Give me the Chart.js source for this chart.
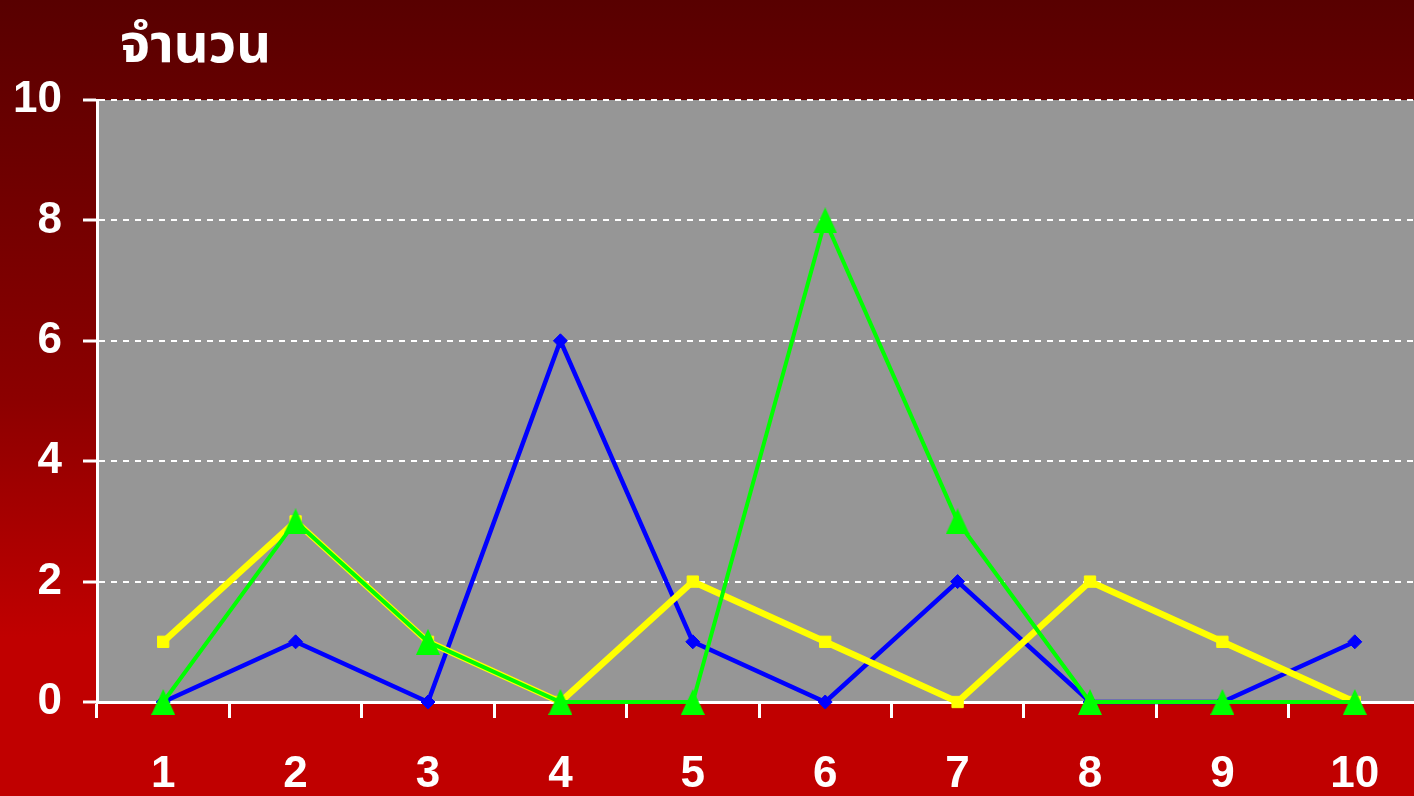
<!DOCTYPE html>
<html>
<head>
<meta charset="utf-8">
<script src="https://cdn.jsdelivr.net/npm/chart.js@4/dist/chart.umd.min.js"></script>
<style>
  html, body { margin: 0; padding: 0; width: 1414px; height: 796px; overflow: hidden; }
  body { background: linear-gradient(to bottom, #580000 0%, #8c0000 50%, #c00000 80%, #c00000 100%); }
  #c { position: absolute; left: 0; top: 0; width: 1437px; height: 796px; }
</style>
</head>
<body>
<canvas id="c" width="1437" height="796"></canvas>
<script>
const categories = ['1', '2', '3', '4', '5', '6', '7', '8', '9', '10'];
const blueValues   = [0, 1, 0, 6, 1, 0, 2, 0, 0, 1];
const yellowValues = [1, 3, 1, 0, 2, 1, 0, 2, 1, 0];
const greenValues  = [0, 3, 1, 0, 0, 8, 3, 0, 0, 0];
const yTicks = [0, 2, 4, 6, 8, 10];
const yTitle = 'จำนวน';

// custom tall triangle marker
const tri = document.createElement('canvas');
tri.width = 24; tri.height = 26;
(function () {
  const g = tri.getContext('2d');
  g.fillStyle = '#00ff00';
  g.beginPath();
  g.moveTo(12, 0); g.lineTo(24, 26); g.lineTo(0, 26); g.closePath();
  g.fill();
})();

const plotBg = {
  id: 'plotBg',
  beforeDraw(chart) {
    const a = chart.chartArea, ctx = chart.ctx;
    ctx.save();
    ctx.fillStyle = '#969696';
    ctx.fillRect(a.left, a.top, a.right - a.left, a.bottom - a.top);
    ctx.restore();
  }
};
const titlePlugin = {
  id: 'topTitle',
  afterDraw(chart) {
    const ctx = chart.ctx;
    ctx.save();
    ctx.fillStyle = '#ffffff';
    ctx.font = 'bold 54px "Noto Sans Thai", "Noto Sans", Tahoma, sans-serif';
    ctx.textBaseline = 'alphabetic';
    ctx.textAlign = 'left';
    ctx.fillText(yTitle, 120, 62);
    ctx.restore();
  }
};

const tickFont = { family: '"Liberation Sans", Arial, sans-serif', size: 44, weight: 'bold' };

new Chart(document.getElementById('c'), {
  type: 'line',
  data: {
    labels: categories,
    datasets: [
      {
        data: greenValues, borderColor: '#00ff00', backgroundColor: '#00ff00',
        borderWidth: 4, pointStyle: tri, pointRadius: 12, clip: false, order: 1
      },
      {
        data: yellowValues, borderColor: '#ffff00', backgroundColor: '#ffff00',
        borderWidth: 6.5, pointStyle: 'rect', pointRadius: 8, pointBorderWidth: 1, clip: false, order: 2
      },
      {
        data: blueValues, borderColor: '#0000ff', backgroundColor: '#0000ff',
        borderWidth: 4.5, pointStyle: 'rectRot', pointRadius: 7, pointBorderWidth: 1, clip: false, order: 3
      }
    ]
  },
  options: {
    responsive: false,
    maintainAspectRatio: false,
    animation: false,
    devicePixelRatio: 1,
    layout: { padding: { top: 100, left: 0, right: 0, bottom: 0 } },
    plugins: { legend: { display: false }, tooltip: { enabled: false }, title: { display: false } },
    elements: { line: { tension: 0 } },
    scales: {
      x: {
        offset: true,
        grid: { display: true, offset: true, drawOnChartArea: false, drawTicks: true,
                tickLength: 16, tickColor: '#ffffff', tickWidth: 3, color: '#ffffff' },
        border: { display: true, color: '#ffffff', width: 3 },
        ticks: { color: '#ffffff', font: tickFont, padding: 30, maxRotation: 0, autoSkip: false },
        afterFit(scale) { scale.height = 94; }
      },
      y: {
        min: 0, max: 10,
        afterBuildTicks(scale) { scale.ticks = yTicks.map(v => ({ value: v })); },
        grid: { display: true, drawOnChartArea: true, color: '#ffffff', lineWidth: 2,
                drawTicks: true, tickLength: 14, tickColor: '#ffffff', tickWidth: 3, tickBorderDash: [] },
        border: { display: true, color: '#ffffff', width: 3, dash: [6, 6] },
        ticks: { color: '#ffffff', font: tickFont, padding: 21 },
        afterFit(scale) { scale.width = 97; }
      }
    }
  },
  plugins: [plotBg, titlePlugin]
});
</script>
</body>
</html>
